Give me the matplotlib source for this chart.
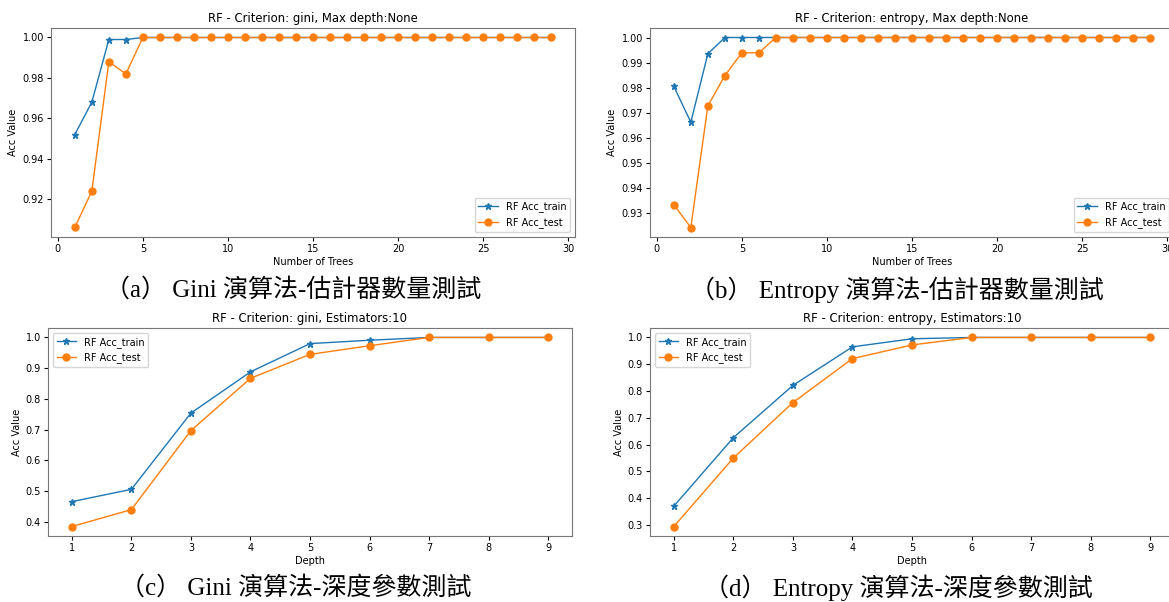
import numpy as np
import matplotlib.pyplot as plt

# number of trees 1..29 for the estimator tests
trees = list(range(1, 30))
depths = list(range(1, 10))

# (a) gini, max depth None
gini_tree_train = [0.952, 0.968, 0.999, 0.999] + [1.0] * 25
gini_tree_test = [0.906, 0.924, 0.988, 0.982] + [1.0] * 25

# (b) entropy, max depth None
ent_tree_train = [0.9805, 0.9662, 0.9935] + [1.0] * 26
ent_tree_test = [0.9333, 0.9242, 0.9727, 0.9848, 0.9939, 0.9939] + [1.0] * 23

# (c) gini, estimators 10
gini_depth_train = [0.466, 0.506, 0.754, 0.888, 0.980, 0.991, 1.0, 1.0, 1.0]
gini_depth_test = [0.385, 0.440, 0.697, 0.867, 0.945, 0.973, 1.0, 1.0, 1.0]

# (d) entropy, estimators 10
ent_depth_train = [0.370, 0.626, 0.821, 0.965, 0.995, 1.0, 1.0, 1.0, 1.0]
ent_depth_test = [0.294, 0.550, 0.757, 0.921, 0.972, 1.0, 1.0, 1.0, 1.0]

captions = ["（a） Gini 演算法-估計器數量測試",
            "（b） Entropy 演算法-估計器數量測試",
            "（c） Gini 演算法-深度參數測試",
            "（d） Entropy 演算法-深度參數測試"]

W, H = 1169, 602
fig = plt.figure(figsize=(W / 100, H / 100), dpi=100)

fs = 7


def panel(rect, x, train, test, title, xlabel, loc):
    ax = fig.add_axes(rect)
    ax.plot(x, train, marker="*", markersize=4.5, linewidth=1, label="RF Acc_train")
    ax.plot(x, test, marker="o", markersize=5, linewidth=1, label="RF Acc_test")
    ax.set_title(title, fontsize=8.4, pad=4)
    ax.set_xlabel(xlabel, fontsize=fs, labelpad=2)
    ax.set_ylabel("Acc Value", fontsize=fs, labelpad=3)
    ax.tick_params(labelsize=fs, length=3, pad=2)
    for s in ax.spines.values():
        s.set_color("#777777")
    ax.legend(loc=loc, fontsize=fs)
    return ax


aw = 524 / W
panel([51 / W, 1 - 237 / H, aw, 209 / H], trees, gini_tree_train, gini_tree_test,
      "RF - Criterion: gini, Max depth:None", "Number of Trees", "lower right")
panel([650 / W, 1 - 237 / H, aw, 209 / H], trees, ent_tree_train, ent_tree_test,
      "RF - Criterion: entropy, Max depth:None", "Number of Trees", "lower right")
panel([48 / W, 1 - 536 / H, aw, 208 / H], depths, gini_depth_train, gini_depth_test,
      "RF - Criterion: gini, Estimators:10", "Depth", "upper left")
panel([650 / W, 1 - 536 / H, aw, 208 / H], depths, ent_depth_train, ent_depth_test,
      "RF - Criterion: entropy, Estimators:10", "Depth", "upper left")

cap_pos = [(293, 290), (897, 290), (296, 588), (898, 588)]
for (cx, cy), txt in zip(cap_pos, captions):
    fig.text(cx / W, 1 - cy / H, txt, ha="center", va="center", fontsize=18,
             family=["Liberation Serif", "Noto Sans CJK TC"])

fig.savefig("out.png", dpi=100)
